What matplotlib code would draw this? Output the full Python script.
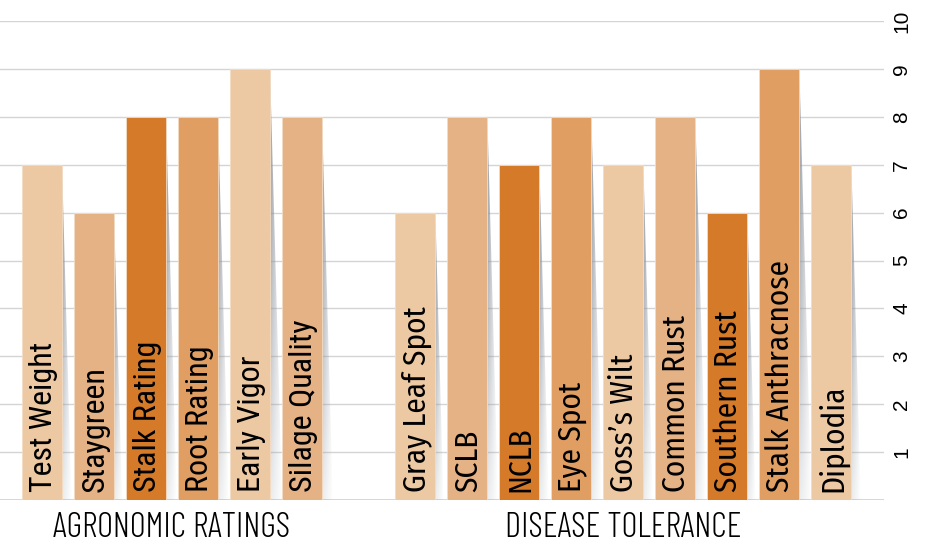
import matplotlib
matplotlib.use("Agg")
import matplotlib.pyplot as plt
import numpy as np
from matplotlib.patches import Polygon
from matplotlib.transforms import blended_transform_factory

# ---- data ----
agro_labels = ["Test Weight", "Staygreen", "Stalk Rating", "Root Rating",
               "Early Vigor", "Silage Quality"]
agro_values = [7, 6, 8, 8, 9, 8]

disease_labels = ["Gray Leaf Spot", "SCLB", "NCLB", "Eye Spot", "Goss\u2019s Wilt",
                  "Common Rust", "Southern Rust", "Stalk Anthracnose", "Diplodia"]
disease_values = [6, 8, 7, 8, 7, 8, 6, 9, 7]

group_titles = ["AGRONOMIC RATINGS", "DISEASE TOLERANCE"]
y_ticks = [1, 2, 3, 4, 5, 6, 7, 8, 9, 10]

palette = ["#EDC9A3", "#E5B286", "#D47A29", "#E09E62"]

# ---- layout ----
W, H = 927, 557
fig = plt.figure(figsize=(W / 100, H / 100), dpi=100)
ax = fig.add_axes([0, (H - 500) / H, 884 / W, (500 - 21) / H])

gap = 7.18
x_agro = np.arange(len(agro_values))
x_dis = gap + np.arange(len(disease_values))
bar_w = 40 / 52

# gridlines
for t in y_ticks:
    ax.axhline(t, color="#d4d4d4", lw=1, zorder=0)
ax.axhline(0, color="#cfcfcf", lw=1.2, zorder=0)


def draw_shadow(xr, h):
    # gray wedge to the right of each bar, fading out
    dx = h * 0.026
    poly = Polygon([(xr, h), (xr + dx, 0), (xr, 0)], closed=True,
                   facecolor="none", edgecolor="none", transform=ax.transData)
    ax.add_patch(poly)
    nx, ny = 40, 100
    u = np.linspace(0, 1, nx)[None, :]
    v = np.linspace(0, 1, ny)[:, None]  # 0 at top, 1 at bottom
    alpha = 0.95 * (1 - u) ** 0.9 * (1 - 0.8 * v ** 1.5)
    img = np.zeros((ny, nx, 4))
    img[..., 0] = 0.58
    img[..., 1] = 0.60
    img[..., 2] = 0.63
    img[..., 3] = np.clip(alpha, 0, 1)
    im = ax.imshow(img, extent=(xr, xr + dx, 0, h), origin="upper",
                   aspect="auto", zorder=1.5, interpolation="bilinear")
    im.set_clip_path(poly)


def draw_group(xs, vals, labels, font, size, weight):
    for i, (x, v, lab) in enumerate(zip(xs, vals, labels)):
        col = palette[i % 4]
        ax.bar(x, v, width=bar_w, color=col, edgecolor="#f3dcc4", lw=0.6, zorder=2)
        draw_shadow(x + bar_w / 2, v)
        ax.text(x + 0.02, 0.17, lab, rotation=90, ha="center", va="bottom",
                fontsize=size, family=font, weight=weight, color="black", zorder=3)


draw_group(x_agro, agro_values, agro_labels,
           ["Roboto Condensed", "DejaVu Sans"], 23, 400)
draw_group(x_dis, disease_values, disease_labels,
           ["Fira Sans Condensed", "DejaVu Sans"], 22.5, 400)

ax.set_xlim(-42 / 52, (884 - 42) / 52)
ax.set_ylim(0, 10)

# y axis on the right
ax.yaxis.tick_right()
ax.set_yticks(y_ticks)
ax.set_yticklabels([str(t) for t in y_ticks], rotation=90, va="center",
                   family=["Liberation Sans", "DejaVu Sans"], fontsize=15)
ax.tick_params(axis="y", length=0, pad=6)
ax.set_xticks([])
for s in ax.spines.values():
    s.set_visible(False)

# group titles
tr = blended_transform_factory(ax.transData, fig.transFigure)
for xc, title in zip([np.mean(x_agro), np.mean(x_dis)], group_titles):
    ax.text(xc, 29 / H, title, transform=tr, ha="center", va="center",
            fontsize=25, weight=300, family=["Barlow Condensed", "DejaVu Sans"])

fig.savefig("out.png", dpi=100)
